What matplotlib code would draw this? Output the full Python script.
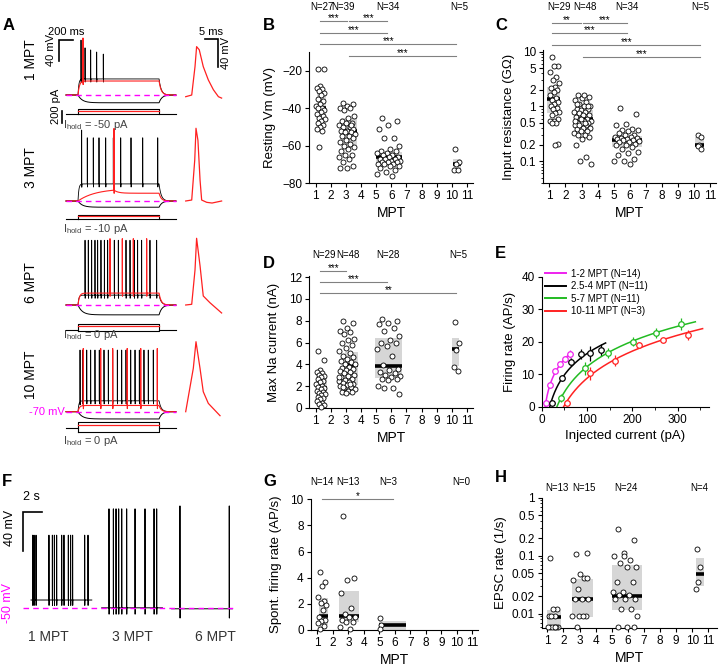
import numpy as np
import matplotlib
matplotlib.use('Agg')
import matplotlib.pyplot as plt
from matplotlib.patches import Rectangle
from matplotlib.lines import Line2D
from matplotlib.ticker import LogLocator, NullFormatter

plt.rcParams['font.family'] = ['Liberation Sans', 'DejaVu Sans']
plt.rcParams['mathtext.default'] = 'regular'

# ---------------- data ----------------
# panel A: current-step traces (ms, mV); rest at -70 mV
a_labels = ['1 MPT', '3 MPT', '6 MPT', '10 MPT']
a_ihold = ['-50 pA', '-10 pA', '0 pA', '0 pA']
a_black_plat = [-39, -37, -51, -49]
a_red_plat = [-43, -46, -47, -58]
a_red_tau = [20, 250, 20, 20]
a_red_post = [None, -55, None, None]
a_hyper = [-85, -82, -89, -84]
a_black_spk = [[213, 270, 350, 435, 529],
               [222, 302, 387, 468, 563, 671, 776, 922, 1088, 1301],
               [270, 316, 364, 411, 449, 496, 544, 591, 685, 742, 851, 908, 969, 1016, 1073, 1191, 1286],
               [199, 237, 294, 350, 411, 472, 539, 600, 662, 728, 790, 851, 918, 979, 1040, 1106, 1167, 1238]]
a_black_pk = [[36, 21, 17, 13, 9], [67, 52, 52, 52, 52, 52, 52, 52, 52, 52], 55, 49]
a_red_spk = [[241], [681], [624, 799, 955, 1144], [245, 492, 662, 868, 1060, 1295]]
a_red_pk = [40, 70, 58, 52]
a_cur_black = [70, 70, 100, 100]   # pA
a_cur_red = [35, 45, 60, 45]
a_cur_hyp = [-5, -5, -20, -60]
# single action potentials (ms, mV)
ap_t = [[0, 2.26, 3.5, 4.1, 5.1, 6.6, 8.5, 10.4, 12.3, 13.5],
        [0, 2.26, 3.4, 3.87, 4.6, 5.4, 6.0, 7.9, 9.9, 13.5],
        [0, 2.26, 3.5, 4.1, 5.4, 6.6, 9.1, 13.5],
        [0, 2.86, 3.87, 5.38, 6.6, 8.5, 12.9]]
ap_v = [[-70, -67.6, -27, 1.5, -3, -27, -46, -60, -70, -72],
        [-70, -68.6, -11.4, 33.9, 16.7, -40.5, -68.6, -71.9, -72.9, -70],
        [-70, -69, -20, 25.3, -14.3, -57.1, -66.7, -81.4],
        [-70, -8, 30, -8, -41.4, -58.1, -75.7]]

# panel B: resting Vm (mV)
b_vals = [[-19, -19, -28, -29, -30, -31, -32, -33, -35, -36, -38, -39, -40, -40, -41, -42, -43, -44, -45, -46,
           -47, -48, -49, -50, -51, -52, -61],
          [-37, -38, -39, -40, -40, -41, -44, -45, -47, -48, -48, -49, -50, -50, -51, -52, -52, -53, -53, -54,
           -55, -55, -56, -57, -58, -59, -60, -61, -62, -63, -65, -65, -66, -67, -69, -71, -72, -72, -49],
          [-45, -47, -49, -51, -56, -56, -60, -62, -63, -63, -64, -64, -65, -65, -66, -66, -67, -67, -67, -68,
           -68, -69, -69, -69, -70, -70, -70, -71, -71, -72, -73, -74, -75, -76],
          [-62, -69, -70, -73, -73]]
b_lo = [-48, -59.7, -69.7, -74]
b_med = [-40, -52, -66, -70]
b_hi = [-32, -45.5, -63.2, -67]
b_n = ['N=27', 'N=39', 'N=34', 'N=5']

# panel C: input resistance (GOhm)
c_vals = [[8, 5.5, 5.5, 4.2, 3.5, 3.0, 2.7, 2.3, 2.2, 2.0, 1.8, 1.6, 1.4, 1.3, 1.2, 1.1, 1.0, 0.95, 0.9, 0.8,
           0.75, 0.7, 0.6, 0.55, 0.55, 0.5, 0.5, 0.21, 0.2],
          [1.6, 1.5, 1.4, 1.3, 1.2, 1.1, 1.0, 1.0, 0.9, 0.9, 0.85, 0.8, 0.8, 0.75, 0.7, 0.7, 0.65, 0.6, 0.6, 0.55,
           0.55, 0.5, 0.5, 0.5, 0.45, 0.45, 0.4, 0.4, 0.4, 0.38, 0.35, 0.35, 0.33, 0.3, 0.3, 0.28, 0.25, 0.2, 0.12,
           0.1, 0.09, 1.6, 1.1, 1.0, 0.6, 0.55, 0.5, 0.45],
          [0.95, 0.72, 0.48, 0.45, 0.38, 0.37, 0.37, 0.35, 0.33, 0.3, 0.3, 0.28, 0.28, 0.27, 0.26, 0.25, 0.25, 0.24,
           0.24, 0.23, 0.22, 0.22, 0.21, 0.2, 0.2, 0.18, 0.17, 0.15, 0.14, 0.13, 0.11, 0.1, 0.1, 0.09],
          [0.3, 0.28, 0.2, 0.19, 0.17]]
c_lo = [0.77, 0.34, 0.18, 0.18]
c_med = [1.38, 0.59, 0.24, 0.2]
c_hi = [2.23, 0.86, 0.29, 0.28]
c_n = ['N=29', 'N=48', 'N=34', 'N=5']

# panel D: max Na current (nA)
d_vals = [[5.2, 4.4, 3.5, 3.3, 3.2, 3.0, 2.9, 2.8, 2.7, 2.5, 2.4, 2.2, 2.0, 1.9, 1.8, 1.7, 1.6, 1.5, 1.4, 1.3,
           1.2, 1.0, 0.9, 0.8, 0.6, 0.5, 0.4, 0.3, 0.1],
          [8.0, 7.8, 7.3, 7.1, 7.0, 6.8, 6.3, 6.2, 6.0, 5.8, 5.5, 5.2, 5.0, 4.8, 4.7, 4.5, 4.3, 4.2, 4.0, 4.0,
           3.8, 3.7, 3.6, 3.5, 3.4, 3.3, 3.2, 3.0, 2.9, 2.8, 2.7, 2.6, 2.5, 2.4, 2.3, 2.2, 2.1, 2.0, 1.9, 1.8,
           1.7, 1.6, 1.5, 1.5, 1.4, 2.8, 2.2, 1.9],
          [8.2, 8.0, 7.8, 7.7, 7.3, 7.1, 6.6, 6.2, 6.0, 6.0, 5.7, 5.4, 4.8, 3.9, 3.6, 3.5, 3.3, 3.2, 3.0, 2.9,
           2.8, 2.7, 2.7, 2.6, 2.0, 1.8, 1.8, 1.3],
          [7.9, 6.0, 5.3, 3.8, 3.4]]
d_lo = [0.85, 2.08, 2.78, 3.82]
d_med = [1.83, 3.9, 3.82, 5.37]
d_hi = [2.84, 5.13, 6.44, 6.44]
d_n = ['N=29', 'N=48', 'N=28', 'N=5']

# panel E: f-I curves
e_labels = ['1-2 MPT (N=14)', '2.5-4 MPT (N=11)', '5-7 MPT (N=11)', '10-11 MPT (N=3)']
e_colors = ['#ee22ee', 'black', '#22bb22', '#ff2222']
e_x = [[9, 18.5, 30, 40.7, 51, 61.5], [22, 44, 65, 87, 107, 130],
       [42, 95, 147, 201, 253, 307], [56, 107, 161, 215, 268, 322]]
e_y = [[1.2, 6.6, 11, 13, 14.7, 16.1], [1.0, 8.9, 13.8, 16.2, 16.4, 17.4],
       [2.6, 11.8, 16.6, 20.0, 22.6, 25.4], [1.2, 10.3, 14.2, 19.0, 20.6, 22.0]]
e_err = [[0.5, 0.6, 0.7, 0.8, 1.0, 1.2], [0.6, 1.0, 1.3, 1.5, 2.3, 1.8],
         [1.2, 2.0, 1.5, 1.4, 1.5, 1.8], [0.8, 2.0, 1.8, 0.8, 0.6, 1.5]]
e_fit_end = [65, 141, 339, 355]

# panel F: spontaneous firing (s, mV)
f_labels = ['1 MPT', '3 MPT', '6 MPT']
f_spikes = [[0.18, 0.32, 0.53, 1.89, 2.25, 2.46, 2.70, 3.23, 3.47, 3.93, 4.17, 4.38, 5.65, 6.00],
            [0.77, 1.23, 1.51, 1.79, 2.11, 2.63, 3.51, 4.56, 5.51, 5.79],
            [0.88, 6.07]]
f_peak = [25, 52, 55]
f_base = [-41.5, -49.5, -50.5]
f_ahp = [-47, -56, -60]
f_dur = 6.4

# panel G: spontaneous firing rate (AP/s)
g_vals = [[4.4, 3.7, 3.4, 2.5, 2.2, 2.1, 1.9, 1.5, 1.0, 0.8, 0.7, 0.5, 0.3, 0.1],
          [8.7, 4.0, 3.8, 2.8, 1.7, 1.2, 1.0, 1.0, 0.8, 0.6, 0.6, 0.2, 0.1],
          [0.9, 0.4, 0.1]]
g_lo = [0.38, 0.59, 0.0]
g_med = [1.1, 1.05, 0.38]
g_hi = [2.42, 2.98, 0.69]
g_n = ['N=14', 'N=13', 'N=3', 'N=0']

# panel H: EPSC rate (1/s)
h_vals = [[0.09, 0.012, 0.012, 0.009, 0.009, 0.009, 0.006, 0.006, 0.006, 0.006, 0.006, 0.006, 0.006],
          [0.105, 0.11, 0.048, 0.038, 0.042, 0.027, 0.018, 0.018, 0.018, 0.0092, 0.0092, 0.0092, 0.0092,
           0.006, 0.042],
          [0.29, 0.19, 0.11, 0.1, 0.085, 0.075, 0.063, 0.063, 0.035, 0.035, 0.024, 0.024, 0.021, 0.021,
           0.018, 0.018, 0.018, 0.012, 0.012, 0.0092, 0.006, 0.006, 0.006, 0.1],
          [0.13, 0.063, 0.035, 0.027]]
h_lo = [0.0056, 0.0089, 0.0115, 0.0305]
h_med = [0.0088, 0.0177, 0.0205, 0.048]
h_hi = [0.0118, 0.04, 0.069, 0.09]
h_n = ['N=13', 'N=15', 'N=24', 'N=4']

# ---------------- figure ----------------
W, H = 719, 670
fig = plt.figure(figsize=(W / 100, H / 100), dpi=100)


def add_ax(left, top, width, height):
    return fig.add_axes([left / W, 1 - (top + height) / H, width / W, height / H])


def px_ax(left, top, width, height, x0, xs, y0, yref, ys):
    # axes where x maps to px = x0 + x*xs and y to px = y0 - (y-yref)*ys
    ax = add_ax(left, top, width, height)
    ax.set_xlim((left - x0) / xs, (left + width - x0) / xs)
    ax.set_ylim(yref + (y0 - (top + height)) / ys, yref + (y0 - top) / ys)
    ax.axis('off')
    ax.patch.set_visible(False)
    return ax


def ftext(x, y, s, **kw):
    fig.text(x / W, 1 - y / H, s, **kw)


def step_trace(t, base, level, t_on, t_off, tau_on, tau_off):
    v = np.full(t.shape, float(base))
    on = (t >= t_on) & (t < t_off)
    v[on] = base + (level - base) * (1 - np.exp(-(t[on] - t_on) / tau_on))
    v_end = base + (level - base) * (1 - np.exp(-(t_off - t_on) / tau_on))
    off = t >= t_off
    v[off] = base + (v_end - base) * np.exp(-(t[off] - t_off) / tau_off)
    return v


def add_spikes(t, v, times, peaks, dip):
    v = v.copy()
    peaks = np.broadcast_to(np.asarray(peaks, float), (len(times),))
    for ts, pk in zip(times, peaks):
        i = np.searchsorted(t, ts)
        b = v[i]
        v[i] = pk
        v[i + 1] = (pk + b) / 2
        v[i + 2] = b - dip
        v[i + 3] = b - dip / 2
    return v


# ---- panel A ----
a_base_px = [95, 201, 305, 411.7]
a_top_px = [32, 122, 230, 340]
a_bot_px = [110, 215, 323, 425]
a_box_px = [113.5, 219, 330, 428]
a_lab_y = [60, 168, 283, 375]
a_ih_y = [125, 229, 335, 441]
t = np.arange(0, 1560, 1.0)
for i in range(4):
    ax = px_ax(45, a_top_px[i], 140, a_bot_px[i] - a_top_px[i], 66, 0.0705, a_base_px[i], -70, 0.518)
    hyp = step_trace(t, -70, a_hyper[i], 170, 1320, 60, 40)
    blk = add_spikes(t, step_trace(t, -70, a_black_plat[i], 170, 1320, 12, 30), a_black_spk[i], a_black_pk[i], 6)
    red = step_trace(t, -70, a_red_plat[i], 170, 1320, a_red_tau[i], 30)
    if a_red_post[i] is not None:
        ts = a_red_spk[i][0]
        m = (t > ts) & (t < 1320)
        red[m] = a_red_post[i] + (red[int(ts)] - a_red_post[i]) * np.exp(-(t[m] - ts) / 60)
        after = t >= 1320
        red[after] = -70 + (red[1319] + 70) * np.exp(-(t[after] - 1320) / 30)
    red = add_spikes(t, red, a_red_spk[i], a_red_pk[i], 6)
    ax.plot(t, hyp, color='k', lw=0.7)
    ax.plot(t, blk, color='k', lw=0.6)
    ax.plot(t, red, color='#ff2020', lw=0.8)
    ax.plot([0, 1560], [-70, -70], color='#ff00ff', lw=1, ls=(0, (4, 3)))
    if i == 0:
        ax.plot([-99, -99, -99 + 200], [36 - 40, 36, 36], color='k', lw=1.2, solid_joinstyle='miter')

    cax = px_ax(45, a_box_px[i] - 14, 140, 28, 66, 0.0705, a_box_px[i], 0, 0.06)
    cax.plot([0, 170], [0, 0], color='k', lw=0.8)
    cax.plot([1320, 1560], [0, 0], color='k', lw=0.8)
    cax.plot([170, 170, 1320, 1320, 170], [a_cur_hyp[i], a_cur_black[i], a_cur_black[i], a_cur_hyp[i], a_cur_hyp[i]],
             color='k', lw=0.8)
    cax.plot([170, 1320], [a_cur_red[i], a_cur_red[i]], color='#ff2020', lw=0.9)
    if i == 0:
        cax.plot([-57, -57], [-200 + 40, 40], color='k', lw=1.2)

    apx = px_ax(180, a_top_px[i] - 4, 52, a_bot_px[i] - a_top_px[i], 185.7, 2.66, a_base_px[i] + (1.7 if i == 0 else 0),
                -70, 0.70)
    apx.plot(ap_t[i], ap_v[i], color='#ff2020', lw=0.9)
    if i == 0:
        apx.plot([7.26, 12.26, 12.26], [12.5, 12.5, 12.5 - 40], color='k', lw=1.2, solid_joinstyle='miter')

    ftext(31, a_lab_y[i], a_labels[i], rotation=90, ha='center', va='center', fontsize=10)
    ftext(63, a_ih_y[i], r'I$_{hold}$ = ' + a_ihold[i], ha='left', va='center', fontsize=8, color='#444444')

ftext(66, 32, '200 ms', ha='center', va='center', fontsize=8)
ftext(51, 50, '40 mV', rotation=90, ha='center', va='center', fontsize=8)
ftext(56, 106, '200 pA', rotation=90, ha='center', va='center', fontsize=8)
ftext(211, 32, '5 ms', ha='center', va='center', fontsize=8)
ftext(226, 53, '40 mV', rotation=90, ha='center', va='center', fontsize=8)
ftext(65, 412, '-70 mV', ha='right', va='center', fontsize=8, color='#ff00ff')

# ---- panel F ----
fax = px_ax(5, 495, 235, 130, 31, 9.5, 608.3, -50, 0.975)
f_starts = [0, 7.44, 14.8]
ts_f = np.arange(0, f_dur, 0.005)
for k in range(3):
    v = np.full(ts_f.shape, f_base[k])
    v = add_spikes(ts_f, v, f_spikes[k], f_peak[k], f_base[k] - f_ahp[k])
    fax.plot(ts_f + f_starts[k], v, color='k', lw=0.7)
fax.plot([-0.84, 21.3], [-50, -50], color='#ff00ff', lw=1, ls=(0, (4, 3)))
fax.plot([-0.87, -0.87, 1.13], [49 - 40, 49, 49], color='k', lw=1.2, solid_joinstyle='miter')
ftext(31.7, 497, '2 s', ha='center', va='center', fontsize=9)
ftext(10, 528, '40 mV', rotation=90, ha='center', va='center', fontsize=9)
ftext(8, 603, '-50 mV', rotation=90, ha='center', va='center', fontsize=9, color='#ff00ff')
for k, xp in enumerate([48, 132.7, 215]):
    ftext(xp, 637, f_labels[k], ha='center', va='center', fontsize=10, color='#333333')


# ---- scatter panels ----
def style(ax, xlim):
    for s in ['top', 'right']:
        ax.spines[s].set_visible(False)
    for s in ['left', 'bottom']:
        ax.spines[s].set_linewidth(0.8)
    ax.tick_params(direction='out', length=3, width=0.8, labelsize=8.5, pad=2)
    ax.tick_params(which='minor', length=1.8, width=0.6)
    ax.set_xlim(*xlim)
    ax.set_xticks(range(1, 12))
    ax.set_xticklabels([str(k) for k in range(1, 12)])
    ax.set_xlabel('MPT', fontsize=10, labelpad=3)


def groups(ax, vals, lo, med, hi, box_x, pt_x):
    for g in range(len(vals)):
        x0, x1 = box_x[g]
        ax.add_patch(Rectangle((x0, lo[g]), x1 - x0, hi[g] - lo[g], fc='#d6d6d6', ec='none', zorder=1))
        ax.plot([x0, x1], [med[g], med[g]], color='k', lw=2.6, solid_capstyle='butt', zorder=2)
        k = np.arange(len(vals[g]))
        frac = (k * 0.618034 + 0.25) % 1
        xs = pt_x[g][0] + (pt_x[g][1] - pt_x[g][0]) * frac
        ax.scatter(xs, vals[g], s=13, facecolor='white', edgecolor='k', linewidth=0.6, zorder=3, clip_on=False)


def sig(ax, x1, x2, yf, label):
    tr = ax.get_xaxis_transform()
    ax.plot([x1, x2], [yf, yf], color='#808080', lw=0.8, transform=tr, clip_on=False)
    ax.text((x1 + x2) / 2, yf, label, transform=tr, ha='center', va='baseline', fontsize=7)


def nlabels(ax, xs, yf, labels):
    tr = ax.get_xaxis_transform()
    for x, s in zip(xs, labels):
        ax.text(x, yf, s, transform=tr, ha='center', va='center', fontsize=7)


# B
ax = add_ax(309, 52, 164, 131)
style(ax, (0.55, 11.4))
groups(ax, b_vals, b_lo, b_med, b_hi, [(1.07, 1.66), (2.66, 3.72), (4.95, 6.7), (10.05, 10.6)],
       [(1.0, 1.6), (2.5, 3.6), (5.0, 6.6), (10.1, 10.5)])
ax.set_ylim(-80, -10)
ax.set_yticks([-80, -60, -40, -20])
ax.set_ylabel('Resting Vm (mV)', fontsize=9.5, labelpad=4)
nlabels(ax, [1.4, 2.8, 5.8, 10.5], 1.344, b_n)
sig(ax, 1.28, 3.05, 1.237, '***')
sig(ax, 3.2, 5.74, 1.237, '***')
sig(ax, 1.28, 5.74, 1.145, '***')
sig(ax, 1.28, 10.3, 1.061, '***')
sig(ax, 3.2, 10.3, 0.969, '***')

# C
ax = add_ax(543, 50, 173, 133)
style(ax, (0.6, 11.38))
ax.set_yscale('log')
groups(ax, c_vals, c_lo, c_med, c_hi, [(0.88, 1.66), (2.87, 3.7), (4.88, 6.75), (10.1, 10.65)],
       [(1.0, 1.6), (2.5, 3.6), (5.0, 6.6), (10.2, 10.5)])
ax.set_ylim(0.04, 10.7)
ax.set_yticks([0.1, 0.2, 0.5, 1, 2, 5, 10])
ax.set_yticklabels(['0.1', '0.2', '0.5', '1', '2', '5', '10'])
ax.yaxis.set_minor_locator(LogLocator(base=10, subs=np.arange(2, 10)))
ax.yaxis.set_minor_formatter(NullFormatter())
ax.set_ylabel('Input resistance (GΩ)', fontsize=9.5, labelpad=3)
nlabels(ax, [1.6, 3.2, 5.8, 10.4], 1.323, c_n)
sig(ax, 1.19, 2.95, 1.205, '**')
sig(ax, 3.07, 5.81, 1.205, '***')
sig(ax, 1.19, 5.81, 1.126, '***')
sig(ax, 1.19, 10.4, 1.038, '***')
sig(ax, 3.07, 10.4, 0.95, '***')

# D
ax = add_ax(309, 276, 164, 132)
style(ax, (0.55, 11.4))
groups(ax, d_vals, d_lo, d_med, d_hi, [(1.11, 1.72), (2.93, 3.76), (4.9, 6.72), (10.0, 10.5)],
       [(1.0, 1.6), (2.5, 3.6), (5.0, 6.6), (10.1, 10.5)])
ax.set_ylim(0, 12.1)
ax.set_yticks(range(0, 13, 2))
ax.set_ylabel('Max Na current (nA)', fontsize=9.5, labelpad=6)
nlabels(ax, [1.55, 3.15, 5.8, 10.45], 1.16, d_n)
sig(ax, 1.3, 3.0, 1.04, '***')
sig(ax, 1.3, 5.7, 0.952, '***')
sig(ax, 1.3, 10.3, 0.869, '**')

# E
ax = add_ax(541.7, 276.7, 167.7, 130)
for s in ['top', 'right']:
    ax.spines[s].set_visible(False)
ax.tick_params(direction='out', length=3, width=0.8, labelsize=8.5, pad=2)
ax.tick_params(which='minor', length=2, width=0.6)
handles = []
for k in range(4):
    lx = np.log(e_x[k])
    a, b = np.polyfit(lx, e_y[k], 1)
    xx = np.linspace(np.exp(-b / a), e_fit_end[k], 200)
    ax.plot(xx, a * np.log(xx) + b, color=e_colors[k], lw=1.1)
    ax.errorbar(e_x[k], e_y[k], yerr=e_err[k], fmt='o', ms=4, mfc='white', mec=e_colors[k], mew=0.9,
                ecolor=e_colors[k], elinewidth=0.9, capsize=0)
    handles.append(Line2D([], [], color=e_colors[k], lw=1.4))
ax.set_xlim(0, 370)
ax.set_ylim(0, 40)
ax.set_xticks([0, 100, 200, 300])
ax.set_xticks([50, 150, 250, 350], minor=True)
ax.set_yticks([0, 10, 20, 30, 40])
ax.set_xlabel('Injected current (pA)', fontsize=9.5, labelpad=3)
ax.set_ylabel('Firing rate (AP/s)', fontsize=9.5, labelpad=4)
ax.legend(handles, e_labels, loc='upper left', bbox_to_anchor=(0.02, 1.06), frameon=False, fontsize=7,
          handlelength=2.2, handletextpad=0.5, labelspacing=0.25, borderaxespad=0, borderpad=0)

# G
ax = add_ax(310.7, 499.3, 167, 130.7)
style(ax, (0.57, 11.35))
groups(ax, g_vals, g_lo, g_med, g_hi, [(1.13, 1.71), (2.42, 3.69), (5.0, 6.72)],
       [(1.0, 1.6), (2.4, 3.5), (5.0, 5.1)])
ax.set_ylim(0, 10)
ax.set_yticks(range(0, 11, 2))
ax.set_ylabel('Spont. firing rate (AP/s)', fontsize=9.5, labelpad=6)
nlabels(ax, [1.3, 3.0, 5.6, 10.3], 1.132, g_n)
sig(ax, 1.28, 5.9, 1.0, '*')

# H
ax = add_ax(541.7, 497.7, 175, 130.6)
style(ax, (0.65, 11.52))
ax.set_yscale('log')
groups(ax, h_vals, h_lo, h_med, h_hi, [(1.0, 1.83), (2.53, 3.86), (5.02, 6.88), (10.23, 10.75)],
       [(1.0, 1.7), (2.5, 3.6), (5.0, 6.6), (10.2, 10.5)])
ax.set_ylim(0.0056, 1.0)
ax.set_yticks([0.01, 0.02, 0.05, 0.1, 0.2, 0.5, 1])
ax.set_yticklabels(['0.01', '0.02', '0.05', '0.1', '0.2', '0.5', '1'])
ax.yaxis.set_minor_locator(LogLocator(base=10, subs=np.arange(2, 10)))
ax.yaxis.set_minor_formatter(NullFormatter())
ax.set_ylabel('EPSC rate (1/s)', fontsize=9.5, labelpad=3)
nlabels(ax, [1.6, 3.25, 5.9, 10.45], 1.072, h_n)

# panel letters
for lab, (x, y) in zip('ABCDEFGH', [(3, 25), (263, 25), (495, 25), (263, 263), (495, 253), (2, 482),
                                    (263, 482), (495, 477)]):
    ftext(x, y, lab, ha='left', va='center', fontsize=12, fontweight='bold')

fig.savefig('out.png', dpi=100)
